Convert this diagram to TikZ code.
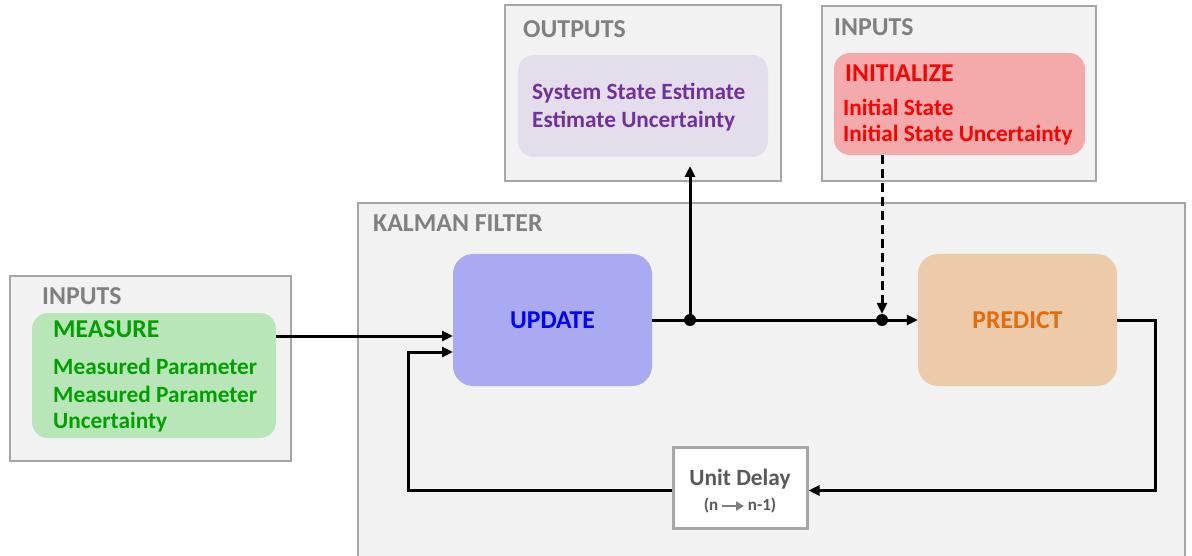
\documentclass[tikz,border=0pt]{standalone}
\usepackage{fontspec}
\setmainfont{Carlito}
\usetikzlibrary{arrows.meta}
\definecolor{panelfill}{HTML}{F2F2F2}
\definecolor{paneldraw}{HTML}{A6A6A6}
\definecolor{titlegray}{HTML}{808080}
\definecolor{measfill}{HTML}{B8E6B8}
\definecolor{meastext}{HTML}{00A000}
\definecolor{outfill}{HTML}{E4DEEC}
\definecolor{outtext}{HTML}{7030A0}
\definecolor{initfill}{HTML}{F4AAAA}
\definecolor{inittext}{HTML}{FF0000}
\definecolor{updfill}{HTML}{AAAAF2}
\definecolor{updtext}{HTML}{0000FF}
\definecolor{predfill}{HTML}{ECCAAA}
\definecolor{predtext}{HTML}{E46C0A}
\definecolor{delaytext}{HTML}{595959}
\tikzset{
  panel/.style={draw=paneldraw, fill=panelfill, line width=2.5pt, inner sep=0pt},
  block/.style={rounded corners=#1, inner sep=0pt},
  title/.style={anchor=west, text=titlegray, inner sep=0pt,
    font=\bfseries\fontsize{25.8}{28}\selectfont},
  label/.style={anchor=west, inner sep=0pt, font=\bfseries\fontsize{23.3}{26}\selectfont},
  head/.style={font=\bfseries\fontsize{25.7}{28}\selectfont},
  wire/.style={line width=3pt},
  conn/.style={wire, -{Triangle[length=11pt,width=10pt]}},
  dot/.style={circle, fill=black, inner sep=0pt, minimum size=12pt},
}
\begin{document}
\begin{tikzpicture}[x=1pt, y=-1pt]
\useasboundingbox (0,0) rectangle (1192,556);

% Kalman filter frame (runs off the bottom edge)
\fill[panelfill] (358,203) rectangle (1185,556);
\draw[paneldraw, line width=2.5pt] (358,556) -- (358,203) -- (1185,203) -- (1185,556);
\node[title] (kftitle) at (373,223) {KALMAN FILTER};

% Measurement inputs
\node[panel, minimum width=281, minimum height=185] (inL) at (150.5,368.5) {};
\node[title] (inLtitle) at (42,296) {INPUTS};
\node[block=16pt, fill=measfill, minimum width=244, minimum height=125] (meas) at (154,375.5) {};
\node[label, head, text=meastext] (meashead) at (53,329) {MEASURE};
\node[label, text=meastext] (meas1) at (53,366) {Measured Parameter};
\node[label, text=meastext] (meas2) at (53,394) {Measured Parameter};
\node[label, text=meastext] (meas3) at (53,422) {Uncertainty};

% Outputs
\node[panel, minimum width=276, minimum height=176] (outP) at (643,93) {};
\node[title] (outtitle) at (523,29) {OUTPUTS};
\node[block=16pt, fill=outfill, minimum width=250, minimum height=102] (outB) at (643,106) {};
\node[label, text=outtext] (out1) at (532,93) {System State Estimate};
\node[label, text=outtext] (out2) at (532,121) {Estimate Uncertainty};

% Initial inputs
\node[panel, minimum width=274, minimum height=175] (inR) at (959,93.5) {};
\node[title] (inRtitle) at (834,27) {INPUTS};
\node[block=16pt, fill=initfill, minimum width=251, minimum height=102] (init) at (959.5,104) {};
\node[label, head, text=inittext] (inithead) at (845,73) {INITIALIZE};
\node[label, text=inittext] (init1) at (843,107) {Initial State};
\node[label, text=inittext] (init2) at (843,135) {Initial State Uncertainty};

% Filter stages
\node[block=20pt, fill=updfill, minimum width=199, minimum height=132,
  text=updtext, head] (upd) at (552.5,320) {UPDATE};
\node[block=20pt, fill=predfill, minimum width=199, minimum height=132,
  text=predtext, head] (pred) at (1017.5,320) {PREDICT};

% Unit delay block
\node[draw=paneldraw, fill=white, line width=3pt, minimum width=134, minimum height=81,
  inner sep=0pt] (delay) at (740,487.5) {};
\node[align=center, inner sep=0pt, text=delaytext] (delaylbl) at (740,491)
  {{\bfseries\fontsize{23.3}{26}\selectfont Unit Delay}\\[8pt]
   {\bfseries\fontsize{17}{19}\selectfont (n\,\tikz[baseline=-4.5pt]\draw[titlegray, line width=2pt,
     -{Triangle[length=8pt,width=9pt]}] (0,0) -- (22,0);\,n-1)}};

% Junctions and connector ends
\coordinate (in1) at (453,336);
\coordinate (in2) at (453,352);
\coordinate (loop) at (408,352);
\coordinate (outtip) at (690,166);
\coordinate (dlin) at ([yshift=-3pt]delay.east);
\coordinate (dlout) at ([yshift=-3pt]delay.west);
\node[dot] (j1) at (690,320) {};
\node[dot] (j2) at (882,320) {};

% Connectors
\draw[conn] (meas.east |- in1) -- (in1);
\draw[conn] (dlout) -| (loop) -- (in2);
\draw[wire] (upd.east) -- (j1.center);
\draw[conn] (j1.center) -- (pred.west);
\draw[conn] (j1.center) -- (outtip);
\draw[conn, dash pattern=on 9pt off 5pt] (init.south -| j2) -- (j2.north);
\draw[conn] (pred.east) -- ++(38,0) |- (dlin);
\end{tikzpicture}
\end{document}
